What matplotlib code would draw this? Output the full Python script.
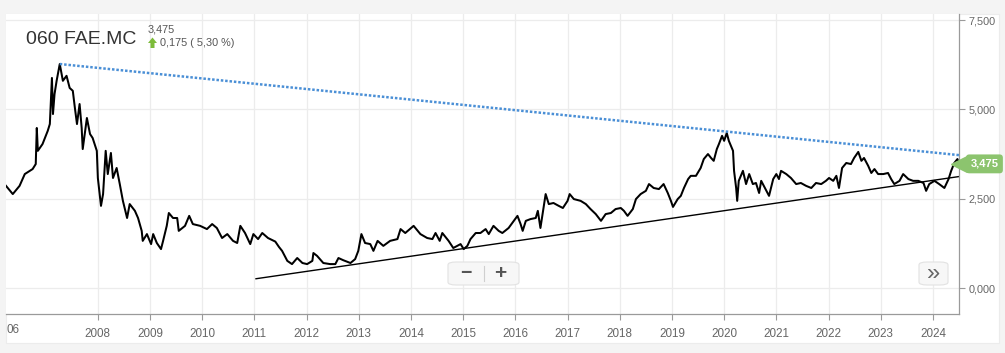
import numpy as np
import matplotlib.pyplot as plt
from matplotlib.patches import FancyBboxPatch, Rectangle, Polygon

plt.rcParams['font.family'] = ['Liberation Sans', 'DejaVu Sans']

# price path (decimal year, price in EUR)
years = [2006.24, 2006.37, 2006.50, 2006.60, 2006.75, 2006.81, 2006.83, 2006.85, 2006.94, 2007.04,
         2007.08, 2007.12, 2007.14, 2007.17, 2007.21, 2007.27, 2007.33, 2007.40, 2007.46, 2007.52,
         2007.56, 2007.60, 2007.65, 2007.69, 2007.71, 2007.79, 2007.85, 2007.90, 2007.98, 2008.00,
         2008.06, 2008.10, 2008.15, 2008.19, 2008.25, 2008.29, 2008.36, 2008.42, 2008.48, 2008.56,
         2008.61, 2008.71, 2008.77, 2008.84, 2008.86, 2008.94, 2009.02, 2009.06, 2009.13, 2009.21,
         2009.25, 2009.32, 2009.36, 2009.44, 2009.52, 2009.55, 2009.67, 2009.75, 2009.82, 2009.96,
         2010.09, 2010.19, 2010.28, 2010.38, 2010.48, 2010.59, 2010.67, 2010.73, 2010.82, 2010.92,
         2010.98, 2011.07, 2011.15, 2011.26, 2011.40, 2011.47, 2011.53, 2011.63, 2011.72, 2011.82,
         2011.92, 2012.01, 2012.11, 2012.13, 2012.20, 2012.32, 2012.45, 2012.55, 2012.61, 2012.70,
         2012.84, 2012.93, 2012.99, 2013.05, 2013.12, 2013.22, 2013.28, 2013.36, 2013.47, 2013.60,
         2013.74, 2013.80, 2013.89, 2014.05, 2014.18, 2014.31, 2014.41, 2014.47, 2014.55, 2014.60,
         2014.72, 2014.81, 2014.95, 2015.01, 2015.08, 2015.14, 2015.24, 2015.33, 2015.43, 2015.49,
         2015.58, 2015.68, 2015.75, 2015.87, 2015.97, 2016.04, 2016.10, 2016.14, 2016.20, 2016.29,
         2016.39, 2016.43, 2016.48, 2016.54, 2016.58, 2016.64, 2016.73, 2016.83, 2016.91, 2017.00,
         2017.04, 2017.12, 2017.25, 2017.35, 2017.44, 2017.54, 2017.64, 2017.73, 2017.83, 2017.92,
         2018.02, 2018.08, 2018.15, 2018.25, 2018.31, 2018.40, 2018.50, 2018.56, 2018.65, 2018.75,
         2018.84, 2018.92, 2018.98, 2019.02, 2019.11, 2019.17, 2019.23, 2019.31, 2019.36, 2019.46,
         2019.55, 2019.61, 2019.69, 2019.75, 2019.80, 2019.86, 2019.90, 2019.96, 2020.00, 2020.05,
         2020.09, 2020.17, 2020.19, 2020.23, 2020.25, 2020.28, 2020.36, 2020.42, 2020.48, 2020.55,
         2020.61, 2020.67, 2020.71, 2020.81, 2020.86, 2020.94, 2021.00, 2021.05, 2021.09, 2021.19,
         2021.28, 2021.38, 2021.47, 2021.57, 2021.67, 2021.76, 2021.86, 2021.95, 2022.01, 2022.09,
         2022.15, 2022.20, 2022.26, 2022.34, 2022.43, 2022.49, 2022.57, 2022.63, 2022.68, 2022.76,
         2022.82, 2022.88, 2022.95, 2023.05, 2023.14, 2023.20, 2023.26, 2023.36, 2023.43, 2023.53,
         2023.62, 2023.72, 2023.82, 2023.87, 2023.93, 2024.03, 2024.12, 2024.22, 2024.30, 2024.35,
         2024.41, 2024.47, 2024.50]
prices = [2.86, 2.63, 2.86, 3.19, 3.33, 3.47, 4.48, 3.84, 4.03, 4.40,
          4.59, 5.88, 4.87, 5.43, 5.80, 6.27, 5.80, 5.94, 5.60, 5.52,
          5.04, 4.59, 5.15, 4.48, 3.89, 4.76, 4.31, 4.20, 3.84, 3.08,
          2.30, 2.63, 3.84, 3.19, 3.78, 3.08, 3.36, 2.91, 2.44, 1.96,
          2.35, 2.16, 1.96, 1.60, 1.32, 1.51, 1.23, 1.51, 1.26, 1.09,
          1.32, 1.74, 2.10, 1.96, 1.96, 1.60, 1.74, 2.02, 1.79, 1.74,
          1.65, 1.79, 1.68, 1.40, 1.51, 1.32, 1.26, 1.74, 1.54, 1.23,
          1.51, 1.37, 1.54, 1.40, 1.30, 1.15, 1.04, 0.76, 0.67, 0.84,
          0.70, 0.67, 0.76, 0.98, 0.90, 0.70, 0.67, 0.67, 0.84, 0.78,
          0.70, 0.81, 1.04, 1.51, 1.26, 1.23, 1.04, 1.32, 1.18, 1.32,
          1.37, 1.65, 1.54, 1.74, 1.51, 1.40, 1.37, 1.54, 1.32, 1.54,
          1.32, 1.12, 1.23, 1.09, 1.18, 1.37, 1.54, 1.54, 1.65, 1.51,
          1.74, 1.60, 1.54, 1.68, 1.88, 2.02, 1.79, 1.60, 1.88, 1.93,
          1.96, 2.16, 1.68, 2.24, 2.63, 2.35, 2.38, 2.30, 2.24, 2.44,
          2.63, 2.49, 2.44, 2.35, 2.21, 2.07, 1.88, 2.07, 2.10, 2.21,
          2.24, 2.16, 2.02, 2.21, 2.49, 2.63, 2.72, 2.91, 2.80, 2.77,
          2.91, 2.66, 2.44, 2.27, 2.49, 2.58, 2.80, 3.05, 3.14, 3.14,
          3.36, 3.61, 3.75, 3.64, 3.56, 3.89, 4.03, 4.26, 4.12, 4.34,
          4.12, 3.84, 3.28, 2.80, 2.44, 3.00, 3.28, 2.91, 3.19, 2.91,
          2.94, 2.66, 3.00, 2.72, 2.58, 3.05, 3.19, 3.05, 3.28, 3.19,
          3.08, 2.91, 2.94, 2.86, 2.80, 2.94, 2.91, 3.00, 3.08, 3.00,
          3.14, 2.80, 3.36, 3.50, 3.47, 3.64, 3.81, 3.56, 3.64, 3.42,
          3.22, 3.33, 3.19, 3.19, 3.22, 3.05, 2.91, 3.00, 3.19, 3.05,
          3.00, 3.00, 2.94, 2.72, 2.91, 3.00, 2.91, 2.80, 3.05, 3.28,
          3.50, 3.61, 3.475]

# trend lines (start, end)
resist_x = [2007.27, 2024.50]
resist_y = [6.27, 3.72]
support_x = [2011.03, 2024.50]
support_y = [0.26, 3.12]

ytick_vals = [0.0, 2.5, 5.0, 7.5]
ytick_labels = ['0,000', '2,500', '5,000', '7,500']
xtick_years = list(range(2008, 2025))

ticker = '060 FAE.MC'
last = '3,475'
change = '0,175 ( 5,30 %)'

W, H = 1005, 353
fig = plt.figure(figsize=(W / 100, H / 100), dpi=100, facecolor='#f4f4f4')

# white card
fig.add_artist(Rectangle((6 / W, (H - 343) / H), 993 / W, 329 / H, transform=fig.transFigure,
                         facecolor='white', edgecolor='#ececec', lw=0.8, zorder=0))

ax = fig.add_axes([6 / W, (H - 314) / H, 953 / W, 300 / H])
ax.set_facecolor('white')
ax.set_xlim(2006.24, 2024.50)
ax.set_ylim(-0.727, 7.67)

for yr in xtick_years:
    ax.axvline(yr, color='#ececec', lw=0.9, zorder=0)
for v in ytick_vals:
    ax.axhline(v, color='#ececec', lw=0.9, zorder=0)

ax.plot(years, prices, color='black', lw=1.45, zorder=3)
ax.plot(support_x, support_y, color='black', lw=1.0, zorder=2)
ax.plot(resist_x, resist_y, color='#4a8fd6', lw=1.8, linestyle=(0, (1, 0.75)),
        dash_capstyle='butt', zorder=4)

for s in ['left', 'top']:
    ax.spines[s].set_visible(False)
for s in ['right', 'bottom']:
    ax.spines[s].set_color('#9a9a9a')
    ax.spines[s].set_linewidth(0.9)

ax.yaxis.tick_right()
ax.set_yticks(ytick_vals)
ax.set_yticklabels(ytick_labels)
ax.set_xticks(xtick_years)
ax.set_xticklabels([str(y) for y in xtick_years])
ax.tick_params(axis='x', direction='out', length=4, width=0.8, color='#9a9a9a',
               labelsize=8.4, labelcolor='#666666', pad=6)
ax.tick_params(axis='y', direction='out', length=4, width=0.8, color='#9a9a9a',
               labelsize=7.8, labelcolor='#666666', pad=3)
fig.text(6 / W, (H - 330) / H, '06', fontsize=8.4, color='#666666', ha='left', va='center')

# header
fig.text(26 / W, (H - 40) / H, ticker, fontsize=14, color='#333333', va='center', ha='left')
fig.text(148 / W, (H - 30) / H, last, fontsize=7.8, color='#555555', va='center', ha='left')
fig.add_artist(Polygon([[148 / W, (H - 43) / H], [152.5 / W, (H - 37.5) / H], [157 / W, (H - 43) / H],
                        [154.5 / W, (H - 43) / H], [154.5 / W, (H - 48) / H], [150.5 / W, (H - 48) / H],
                        [150.5 / W, (H - 43) / H]], closed=True, transform=fig.transFigure,
                       facecolor='#7cbb3a', edgecolor='none'))
fig.text(160 / W, (H - 43) / H, change, fontsize=7.8, color='#555555', va='center', ha='left')

# last price badge
badge_y = 3.475
ax.plot([1.0], [badge_y], marker='<', markersize=11, color='#8cc46e', transform=ax.get_yaxis_transform(),
        clip_on=False, zorder=6)
ax.text(1.012, badge_y, last, transform=ax.get_yaxis_transform(), fontsize=8, color='white',
        fontweight='bold', va='center', ha='left', zorder=7,
        bbox=dict(boxstyle='round,pad=0.4,rounding_size=0.3', facecolor='#8cc46e', edgecolor='none'))

# zoom controls
fig.add_artist(FancyBboxPatch((448 / W, (H - 285) / H), 71 / W, 23 / H, transform=fig.transFigure,
                              boxstyle='round,pad=0,rounding_size=0.008', facecolor='#f7f7f7',
                              edgecolor='#e2e2e2', lw=0.8, zorder=8))
fig.add_artist(plt.Line2D([484 / W, 484 / W], [(H - 281) / H, (H - 266) / H], transform=fig.transFigure,
                          color='#cfcfcf', lw=0.8, zorder=9))
fig.text(466 / W, (H - 273.5) / H, '\u2212', fontsize=14, fontweight='bold', color='#555555',
         ha='center', va='center', zorder=9)
fig.text(500 / W, (H - 273.5) / H, '+', fontsize=15, fontweight='bold', color='#555555',
         ha='center', va='center', zorder=9)
fig.add_artist(FancyBboxPatch((919 / W, (H - 285) / H), 29 / W, 23 / H, transform=fig.transFigure,
                              boxstyle='round,pad=0,rounding_size=0.008', facecolor='#f7f7f7',
                              edgecolor='#e2e2e2', lw=0.8, zorder=8))
fig.text(933.5 / W, (H - 274) / H, '\u00bb', fontsize=17, color='#666666',
         ha='center', va='center', zorder=9)

fig.savefig('out.png', dpi=100, facecolor=fig.get_facecolor())
